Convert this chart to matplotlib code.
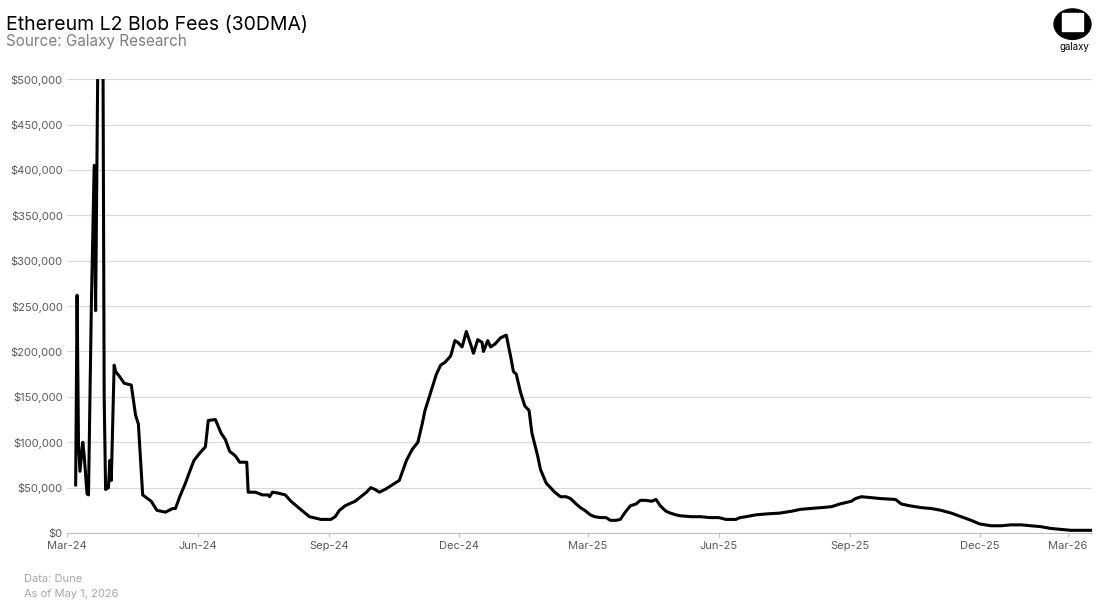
import numpy as np
import pandas as pd
import matplotlib
matplotlib.use("Agg")
import matplotlib.pyplot as plt
import matplotlib.dates as mdates
from matplotlib.ticker import FuncFormatter, FixedLocator
from matplotlib.patches import Circle, Rectangle

plt.rcParams['font.family'] = ['Inter', 'DejaVu Sans']

# === DATA (days since 2024-03-01, fees in $k, 30DMA) ===
days = [6, 7, 8, 9, 11, 12, 14, 15, 17, 19, 20, 22, 25, 26, 27, 29, 30, 31, 33, 34,
        37, 40, 45, 48, 50, 53, 59, 63, 69, 74, 76, 79, 83, 87, 89, 93, 97, 99, 104, 108,
        111, 114, 118, 121, 126, 127, 132, 137, 141, 142, 144, 148, 153, 157, 163, 170, 178, 185, 188, 191,
        195, 199, 202, 206, 210, 213, 216, 219, 223, 227, 233, 238, 242, 246, 249, 251, 254, 256, 259, 262,
        265, 269, 272, 274, 277, 280, 283, 285, 288, 291, 292, 295, 297, 300, 304, 308, 311, 313, 315, 318,
        321, 324, 326, 330, 332, 336, 339, 342, 346, 350, 353, 357, 360, 363, 367, 370, 374, 378, 381, 385,
        388, 391, 395, 399, 402, 406, 410, 413, 416, 420, 423, 427, 430, 438, 444, 451, 457, 462, 469, 472,
        476, 483, 490, 500, 508, 514, 521, 529, 536, 542, 550, 553, 557, 564, 570, 581, 585, 591, 599, 606,
        613, 620, 627, 634, 640, 648, 655, 662, 669, 676, 683, 690, 697, 704, 719]
fees_k = [53, 262, 100, 68, 100, 85, 43, 42, 250, 405, 245, 600, 600, 150, 48, 50, 80, 58, 185, 178,
          172, 165, 163, 130, 120, 42, 35, 25, 23, 27, 27, 40, 55, 72, 80, 88, 95, 124, 125, 110,
          103, 90, 85, 78, 78, 45, 45, 42, 42, 40, 45, 44, 42, 35, 27, 18, 15, 15, 18, 25,
          30, 33, 35, 40, 45, 50, 48, 45, 48, 52, 58, 80, 92, 100, 120, 135, 150, 160, 175, 185,
          188, 195, 212, 210, 205, 222, 208, 198, 213, 210, 200, 212, 205, 208, 215, 218, 195, 178, 175, 155,
          140, 135, 110, 85, 70, 55, 50, 45, 40, 40, 38, 32, 28, 25, 20, 18, 17, 17, 14, 14,
          15, 22, 30, 32, 36, 36, 35, 37, 30, 24, 22, 20, 19, 18, 18, 17, 17, 15, 15, 17,
          18, 20, 21, 22, 24, 26, 27, 28, 29, 32, 35, 38, 40, 39, 38, 37, 32, 30, 28, 27,
          25, 22, 18, 14, 10, 8, 8, 9, 9, 8, 7, 5, 4, 3, 3]
tick_dates = ["2024-03-01", "2024-06-01", "2024-09-01", "2024-12-01", "2025-03-01",
              "2025-06-01", "2025-09-01", "2025-12-01", "2026-02-01"]
tick_labels = ["Mar-24", "Jun-24", "Sep-24", "Dec-24", "Mar-25", "Jun-25", "Sep-25", "Dec-25", "Mar-26"]

start = pd.Timestamp("2024-03-01")
dates = [start + pd.Timedelta(days=d) for d in days]
fees = np.array(fees_k) * 1000

fig = plt.figure(figsize=(11, 6.04), dpi=100)
ax = fig.add_axes([0.061, 0.1175, 0.932, 0.7515])
ax.plot(dates, fees, color="black", lw=2.2, solid_joinstyle="round")

ax.set_ylim(0, 500000)
ax.set_yticks(np.arange(0, 500001, 50000))
ax.yaxis.set_major_formatter(FuncFormatter(lambda v, p: f"${v:,.0f}"))
ax.set_xlim(start, start + pd.Timedelta(days=719))
ax.xaxis.set_major_locator(FixedLocator(mdates.date2num(pd.to_datetime(tick_dates))))
ax.set_xticklabels(tick_labels)
ax.grid(axis="y", color="#d9d9d9", lw=0.8)
ax.set_axisbelow(True)
for s in ["top", "right", "left"]:
    ax.spines[s].set_visible(False)
ax.spines["bottom"].set_color("#bfbfbf")
ax.tick_params(axis="both", labelsize=8, colors="#595959", length=0, pad=3)
ax.tick_params(axis="x", length=3, color="#bfbfbf")

fig.text(0.005, 0.958, "Ethereum L2 Blob Fees (30DMA)", fontsize=14, color="black", va="center")
fig.text(0.005, 0.932, "Source: Galaxy Research", fontsize=11, color="#7f7f7f", va="center")
fig.text(0.022, 0.042, "Data: Dune", fontsize=8, color="#a6a6a6", va="center")
fig.text(0.022, 0.017, "As of May 1, 2026", fontsize=8, color="#a6a6a6", va="center")

# logo
lax = fig.add_axes([0.955, 0.93, 0.04, 0.06])
lax.set_xlim(0, 1); lax.set_ylim(0, 1); lax.axis("off")
lax.add_patch(Circle((0.5, 0.5), 0.42, color="black", transform=lax.transAxes))
lax.add_patch(Rectangle((0.27, 0.3), 0.46, 0.5, color="white", transform=lax.transAxes))
fig.text(0.9765, 0.922, "galaxy", fontsize=7, ha="center", va="center")

fig.savefig("out.png", dpi=100)
